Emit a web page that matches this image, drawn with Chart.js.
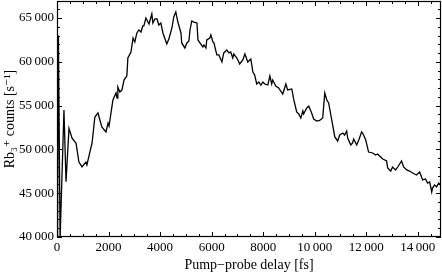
<!DOCTYPE html>
<html>
<head>
<meta charset="utf-8">
<script src="https://cdn.jsdelivr.net/npm/chart.js@4"></script>
<style>
  html, body { margin: 0; padding: 0; background: #fff; }
  #wrap { width: 442px; height: 274px; }
</style>
</head>
<body>
<div id="wrap"><canvas id="grafico" width="442" height="274"></canvas></div>
<script>
// ===========================
// Data
// ===========================
const delays = [
    20, 55, 120, 270, 350, 465, 580, 740, 850, 970, 1120, 1160, 1360, 1470,
    1590, 1740, 1900, 1980, 2020, 2170, 2290, 2330, 2360, 2440, 2520, 2600, 2710, 2750,
    2870, 2950, 3020, 3100, 3180, 3260, 3330, 3370, 3450, 3490, 3570, 3680, 3720, 3800,
    3880, 3950, 4030, 4110, 4150, 4260, 4340, 4460, 4530, 4610, 4690, 4810, 4840, 4960,
    5040, 5120, 5160, 5230, 5310, 5430, 5470, 5580, 5660, 5700, 5780, 5810, 5930, 5970,
    6050, 6090, 6200, 6280, 6400, 6470, 6590, 6670, 6740, 6820, 6860, 6980, 7090, 7210,
    7290, 7360, 7400, 7520, 7600, 7670, 7750, 7830, 7910, 7990, 8060, 8180, 8260, 8330,
    8370, 8490, 8600, 8760, 8880, 8950, 9110, 9190, 9300, 9380, 9460, 9540, 9570, 9690,
    9770, 9880, 9960, 10080, 10190, 10310, 10390, 10470, 10540, 10660, 10780, 10890, 10970,
    11090, 11160, 11240, 11280, 11400, 11470, 11510, 11630, 11710, 11820, 11860, 11980,
    12090, 12250, 12360, 12440, 12560, 12640, 12790, 12830, 12950, 13020, 13140, 13220,
    13370, 13450, 13570, 13680, 13800, 13950, 14070, 14190, 14300, 14380, 14460, 14540,
    14570, 14650, 14730, 14810, 14880
];

const counts = [
    39800, 63000, 39800, 54500, 46300, 52400, 51300, 50700, 48560, 48000, 48560, 48220, 50730, 53700,
    54160, 52560, 51990, 53010, 52670, 55640, 56440, 55870, 57120, 56550, 56780, 57920, 58380, 60430,
    61120, 62720, 62260, 63290, 63630, 63400, 64090, 64090, 65000, 64770, 64320, 65460, 64430, 64890,
    64890, 64200, 64430, 63290, 62950, 62030, 62600, 63860, 65120, 65690, 64540, 63290, 62150, 61580,
    62150, 62380, 63630, 64660, 64540, 64430, 62490, 62030, 61690, 61920, 61580, 62490, 62720, 63060,
    62260, 62150, 60780, 60780, 59980, 61010, 61350, 61010, 61120, 60430, 60890, 60430, 59750, 60210,
    60890, 60320, 59980, 60320, 58840, 58490, 57470, 57700, 57350, 57700, 57470, 57350, 58380, 57470,
    57920, 57240, 57010, 56320, 57470, 56780, 56900, 55640, 54270, 54040, 53590, 54380, 54040, 54730,
    54950, 54160, 53470, 53240, 53300, 53590, 56440, 55640, 55300, 53360, 51420, 50960, 51640,
    51870, 51640, 52100, 51300, 50500, 50730, 51190, 50500, 51070, 51990, 51870, 51070,
    49700, 49590, 49360, 49480, 49130, 48900, 48680, 47880, 47530, 47990, 47650, 47990,
    48680, 47990, 47650, 47530, 47310, 47080, 47420, 46510, 46620, 46160, 46280, 45140,
    45590, 45940, 45710, 46160, 45940
];

// Ticks
const xTickValues = [0, 2000, 4000, 6000, 8000, 10000, 12000, 14000];
const xTickLabels = ["0", "2000", "4000", "6000", "8000", "10\u2009000", "12\u2009000", "14\u2009000"];
const yTickValues = [40000, 45000, 50000, 55000, 60000, 65000];
const yTickLabels = ["40\u2009000", "45\u2009000", "50\u2009000", "55\u2009000", "60\u2009000", "65\u2009000"];

const FONTE = '"Liberation Serif", "DejaVu Serif", serif';

// ===========================
// Frame with inward ticks on all four sides
// ===========================
const molduraTicks = {
    id: 'molduraTicks',
    afterDatasetsDraw(chart) {
        const { ctx, chartArea: a, scales: { x, y } } = chart;
        ctx.save();
        ctx.strokeStyle = '#000';
        ctx.lineWidth = 1.2;
        ctx.strokeRect(a.left + 0.5, a.top + 0.5, a.right - a.left - 1, a.bottom - a.top - 1);

        ctx.lineWidth = 1;
        ctx.beginPath();
        // x ticks: major 2000, minor 500
        for (let v = x.min; v <= x.max; v += 500) {
            const px = Math.round(x.getPixelForValue(v)) + 0.5;
            const len = (v % 2000 === 0) ? 5 : 3;
            ctx.moveTo(px, a.bottom); ctx.lineTo(px, a.bottom - len);
            ctx.moveTo(px, a.top); ctx.lineTo(px, a.top + len);
        }
        // y ticks: major 5000, minor 1000
        for (let v = 40000; v <= y.max; v += 1000) {
            const py = Math.round(y.getPixelForValue(v)) + 0.5;
            const len = (v % 5000 === 0) ? 5 : 3;
            ctx.moveTo(a.left, py); ctx.lineTo(a.left + len, py);
            ctx.moveTo(a.right, py); ctx.lineTo(a.right - len, py);
        }
        ctx.stroke();
        ctx.restore();
    }
};

// ===========================
// Chart
// ===========================
const ctx = document.getElementById('grafico').getContext('2d');

new Chart(ctx, {
    type: 'line',
    data: {
        datasets: [{
            data: delays.map((d, i) => ({ x: d, y: counts[i] })),
            borderColor: '#000',
            borderWidth: 1.3,
            pointRadius: 0,
            tension: 0,
            fill: false,
            clip: 0
        }]
    },
    options: {
        responsive: false,
        animation: false,
        layout: { padding: { top: 1, right: 1, left: 0, bottom: 0 } },
        plugins: {
            legend: { display: false },
            tooltip: { enabled: false }
        },
        scales: {
            x: {
                type: 'linear',
                min: 0,
                max: 14900,
                afterBuildTicks: s => { s.ticks = xTickValues.map(v => ({ value: v })); },
                afterFit: s => {
                    s.height = 37;
                    s.paddingLeft = 0;
                    s.paddingRight = 0;
                },
                grid: { display: false, drawTicks: false },
                border: { display: false },
                ticks: {
                    padding: 3,
                    color: '#000',
                    font: { family: FONTE, size: 13 },
                    maxRotation: 0,
                    autoSkip: false,
                    callback: v => xTickLabels[xTickValues.indexOf(v)]
                },
                title: {
                    display: true,
                    text: 'Pump\u2212probe delay [fs]',
                    color: '#000',
                    font: { family: FONTE, size: 14 },
                    padding: { top: 0, bottom: 0 }
                }
            },
            y: {
                min: 40000,
                max: 66940,
                afterBuildTicks: s => { s.ticks = yTickValues.map(v => ({ value: v })); },
                afterFit: s => {
                    s.width = 57;
                    s.paddingTop = 0;
                    s.paddingBottom = 0;
                },
                grid: { display: false, drawTicks: false },
                border: { display: false },
                ticks: {
                    padding: 3,
                    color: '#000',
                    font: { family: FONTE, size: 13 },
                    autoSkip: false,
                    callback: v => yTickLabels[yTickValues.indexOf(v)]
                },
                title: {
                    display: true,
                    text: 'Rb\u2083\u207A counts [s\u207B\u00B9]',
                    color: '#000',
                    font: { family: FONTE, size: 14 },
                    padding: { top: 2, bottom: 0 }
                }
            }
        }
    },
    plugins: [molduraTicks]
});
</script>
</body>
</html>
